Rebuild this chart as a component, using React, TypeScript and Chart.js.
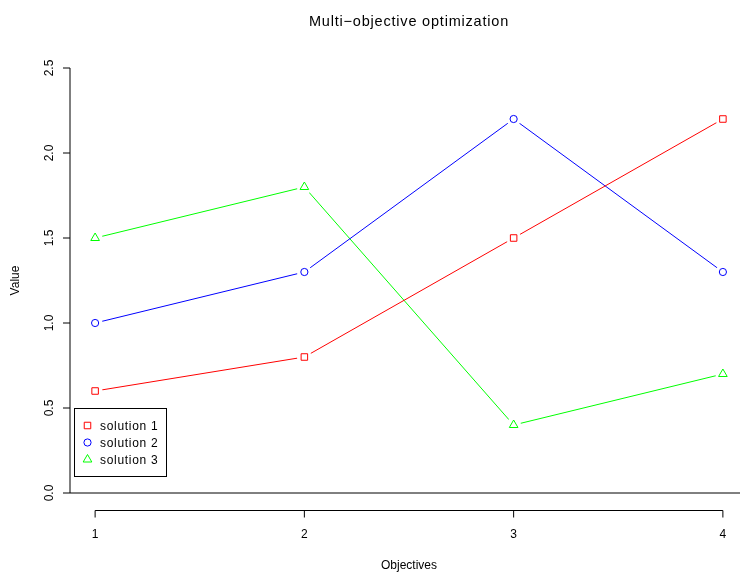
import React, { useEffect, useRef } from 'react';
import { Chart, registerables } from 'chart.js';

Chart.register(...registerables);

const objectives = [1, 2, 3, 4];
const solution1 = [0.6, 0.8, 1.5, 2.2];
const solution2 = [1.0, 1.3, 2.2, 1.3];
const solution3 = [1.5, 1.8, 0.4, 0.7];
const seriesValues = [solution1, solution2, solution3];
const seriesNames = ['solution 1', 'solution 2', 'solution 3'];
const seriesColors = ['#FF0000', '#0000FF', '#00FF00'];
const seriesMarkers = ['rect', 'circle', 'triangle'];
const seriesRadius = [4.6, 3.6, 5];
const xTicks = [1, 2, 3, 4];
const xTickLabels = ['1', '2', '3', '4'];
const yTicks = [0, 0.5, 1, 1.5, 2, 2.5];
const yTickLabels = ['0.0', '0.5', '1.0', '1.5', '2.0', '2.5'];
const titleText = 'Multi\u2212objective optimization';
const xTitle = 'Objectives';
const yTitle = 'Value';
const legendAnchor = { x: 0.9, y: 0.5 };
const xRange = [0.88, 4.12];

const FONT = '"Liberation Sans", Arial, Helvetica, sans-serif';

const rAxesPlugin = {
  id: 'rAxes',
  afterDraw(chart: any) {
    const ctx = chart.ctx;
    const xs = chart.scales.x;
    const ys = chart.scales.y;
    const ca = chart.chartArea;
    ctx.save();
    ctx.strokeStyle = '#000';
    ctx.fillStyle = '#000';
    ctx.lineWidth = 1;

    // horizontal reference line at 0
    const y0 = ys.getPixelForValue(0);
    ctx.beginPath();
    ctx.moveTo(ca.left, y0);
    ctx.lineTo(ca.right, y0);
    ctx.stroke();

    // y axis
    const yTop = ys.getPixelForValue(yTicks[yTicks.length - 1]);
    const yBot = ys.getPixelForValue(yTicks[0]);
    ctx.beginPath();
    ctx.moveTo(ca.left, yTop);
    ctx.lineTo(ca.left, yBot);
    yTicks.forEach((v) => {
      const p = ys.getPixelForValue(v);
      ctx.moveTo(ca.left, p);
      ctx.lineTo(ca.left - 7, p);
    });
    ctx.stroke();
    ctx.font = '12px ' + FONT;
    ctx.textAlign = 'center';
    ctx.textBaseline = 'alphabetic';
    yTicks.forEach((v, i) => {
      const p = ys.getPixelForValue(v);
      ctx.save();
      ctx.translate(ca.left - 17.5, p);
      ctx.rotate(-Math.PI / 2);
      ctx.fillText(yTickLabels[i], 0, 0);
      ctx.restore();
    });

    // x axis
    const xl = xs.getPixelForValue(xTicks[0]);
    const xr = xs.getPixelForValue(xTicks[xTicks.length - 1]);
    const axY = Math.round(ca.bottom) + 0.5;
    ctx.beginPath();
    ctx.moveTo(xl, axY);
    ctx.lineTo(xr, axY);
    xTicks.forEach((v) => {
      const p = xs.getPixelForValue(v);
      ctx.moveTo(p, axY);
      ctx.lineTo(p, axY + 7);
    });
    ctx.stroke();
    xTicks.forEach((v, i) => {
      const p = xs.getPixelForValue(v);
      ctx.fillText(xTickLabels[i], p, ca.bottom + 28);
    });

    // titles (centred on the full plot region)
    const cx = xs.getPixelForValue((xRange[0] + xRange[1]) / 2);
    ctx.fillText(xTitle, cx, ca.bottom + 59);
    ctx.save();
    ctx.translate(19, (ca.top + ca.bottom) / 2);
    ctx.rotate(-Math.PI / 2);
    ctx.fillText(yTitle, 0, 0);
    ctx.restore();
    ctx.font = '14.5px ' + FONT;
    ctx.letterSpacing = '0.8px';
    ctx.fillText(titleText, cx, 25.5);
    ctx.letterSpacing = '0px';

    // legend
    const lx = Math.round(xs.getPixelForValue(legendAnchor.x)) + 0.5;
    const ly = Math.round(ys.getPixelForValue(legendAnchor.y)) + 0.5;
    const bw = 92;
    const bh = 68;
    ctx.fillStyle = '#fff';
    ctx.fillRect(lx, ly, bw, bh);
    ctx.strokeStyle = '#000';
    ctx.strokeRect(lx, ly, bw, bh);
    ctx.font = '12px ' + FONT;
    ctx.letterSpacing = '0.7px';
    ctx.textAlign = 'left';
    ctx.textBaseline = 'alphabetic';
    seriesNames.forEach((name, i) => {
      const ry = ly + 17 + i * 17;
      ctx.strokeStyle = seriesColors[i];
      ctx.lineWidth = 1;
      const mx = lx + 13;
      const r = seriesRadius[i];
      ctx.beginPath();
      if (seriesMarkers[i] === 'rect') {
        const s = r * Math.SQRT1_2;
        ctx.rect(mx - s, ry - s, 2 * s, 2 * s);
      } else if (seriesMarkers[i] === 'circle') {
        ctx.arc(mx, ry, r, 0, Math.PI * 2);
      } else {
        for (let k = 0; k < 3; k++) {
          const a = (k * 2 * Math.PI) / 3;
          const px = mx + Math.sin(a) * r;
          const py = ry - Math.cos(a) * r;
          if (k === 0) ctx.moveTo(px, py);
          else ctx.lineTo(px, py);
        }
        ctx.closePath();
      }
      ctx.stroke();
      ctx.fillStyle = '#000';
      ctx.fillText(name, lx + 25.5, ry + 4.5);
    });
    ctx.letterSpacing = '0px';
    ctx.restore();
  },
};

export default function App() {
  const ref = useRef<HTMLCanvasElement | null>(null);
  useEffect(() => {
    if (!ref.current) return;
    const datasets: any[] = [];
    seriesValues.forEach((vals, i) => {
      const pts = objectives.map((x, j) => ({ x, y: vals[j] }));
      datasets.push({
        label: seriesNames[i] + ' line',
        data: pts,
        borderColor: seriesColors[i],
        borderWidth: 1,
        pointRadius: 0,
        showLine: true,
        fill: false,
        tension: 0,
        order: 3,
      });
      datasets.push({
        label: seriesNames[i] + ' gap',
        data: pts,
        showLine: false,
        pointRadius: 7.5,
        pointBackgroundColor: '#ffffff',
        pointBorderWidth: 0,
        pointBorderColor: 'rgba(0,0,0,0)',
        order: 2,
      });
      datasets.push({
        label: seriesNames[i],
        data: pts,
        showLine: false,
        pointStyle: seriesMarkers[i],
        pointRadius: seriesRadius[i],
        pointBorderColor: seriesColors[i],
        pointBackgroundColor: 'rgba(0,0,0,0)',
        pointBorderWidth: 1,
        order: 1,
      });
    });
    // plot region spans 0.88..4.12 (R's 4% extension) but is cut by the 740px frame
    const visibleMax = xRange[0] + (740 - 70) * (xRange[1] - xRange[0]) / 678;
    const chart = new Chart(ref.current, {
      type: 'line',
      data: { datasets },
      options: {
        animation: false,
        responsive: false,
        maintainAspectRatio: false,
        devicePixelRatio: 1,
        layout: { autoPadding: false, padding: { left: 70, right: 0, top: 51, bottom: 65 } },
        plugins: {
          legend: { display: false },
          tooltip: { enabled: false },
          title: { display: false },
        },
        scales: {
          x: { type: 'linear', min: xRange[0], max: visibleMax, display: false },
          y: { type: 'linear', min: -0.1, max: 2.6, display: false },
        },
      },
      plugins: [rAxesPlugin],
    });
    return () => chart.destroy();
  }, []);
  return (
    <div
      style={{
        position: 'absolute',
        left: 0,
        top: 0,
        width: 740,
        height: 575,
        overflow: 'hidden',
        background: '#fff',
      }}
    >
      <canvas ref={ref} width={740} height={575} style={{ width: 740, height: 575, display: 'block' }} />
    </div>
  );
}
